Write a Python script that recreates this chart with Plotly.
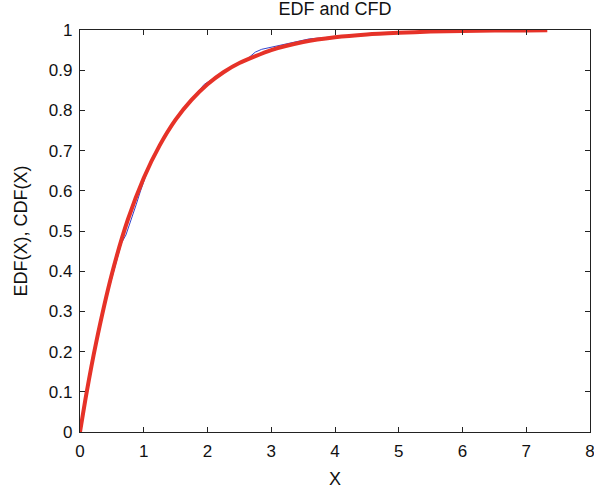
import plotly.graph_objects as go

# CDF values
cdf_x = [0, 0.1, 0.25, 0.5, 0.75, 1.0, 1.25, 1.5, 1.75, 2.0, 2.25, 2.5, 3.0, 3.5, 4.0, 4.5, 5.0, 5.5, 6.0, 6.5, 7.0, 7.33]
cdf_y = [0, 0.095, 0.22, 0.393, 0.528, 0.632, 0.713, 0.777, 0.826, 0.865, 0.895, 0.918, 0.950, 0.970, 0.982, 0.989, 0.993, 0.996, 0.9975, 0.9985, 0.999, 0.9993]

# EDF (thin blue, mostly hidden under the red line)
edf_x = [0, 0.1, 0.25, 0.4, 0.55, 0.65, 0.72, 0.8, 0.88, 0.95, 1.05, 1.2, 1.4, 1.6, 1.8, 1.95, 2.05, 2.2, 2.4, 2.6, 2.75, 2.85, 3.0, 3.2, 3.4, 3.6, 3.9, 4.2, 4.6, 5.0, 5.5, 6.0, 6.6, 7.3]
edf_y = [0, 0.09, 0.215, 0.325, 0.415, 0.47, 0.49, 0.525, 0.565, 0.6, 0.645, 0.7, 0.753, 0.8, 0.836, 0.865, 0.875, 0.89, 0.908, 0.925, 0.945, 0.952, 0.957, 0.965, 0.972, 0.978, 0.982, 0.986, 0.99, 0.993, 0.996, 0.998, 0.999, 1.0]

fig = go.Figure()
fig.add_trace(go.Scatter(x=edf_x, y=edf_y, mode="lines", line=dict(color="#3344cc", width=1), showlegend=False))
fig.add_trace(go.Scatter(x=cdf_x, y=cdf_y, mode="lines", line=dict(color="#e63228", width=4, shape="spline", smoothing=0.6), showlegend=False))

font = "Liberation Sans, Arial"
axis_common = dict(showline=True, linecolor="#222", linewidth=1.3, mirror="ticks", ticks="inside",
                   ticklen=5, tickcolor="#222", showgrid=False, zeroline=False, automargin=False,
                   ticklabeloverflow="allow", ticklabelstandoff=3,
                   tickfont=dict(family=font, size=17, color="#111"))
fig.update_xaxes(range=[0, 8], dtick=1, title=dict(text="X", font=dict(family=font, size=18, color="#111"), standoff=13), **axis_common)
fig.update_yaxes(range=[0, 1], dtick=0.1, title=dict(text="EDF(X), CDF(X)", font=dict(family=font, size=18, color="#111"), standoff=16), **axis_common)

fig.update_layout(
    width=594, height=489,
    margin=dict(l=80, r=4, t=30, b=57),
    paper_bgcolor="white", plot_bgcolor="white",
    title=dict(text="EDF and CFD", x=0.564, xanchor="center", y=0.996, yanchor="top",
               font=dict(family=font, size=18, color="#111")),
)
fig.write_html("out.html", config={"displayModeBar": False},
               post_script="document.body.style.margin='0';document.body.style.overflow='hidden';")
